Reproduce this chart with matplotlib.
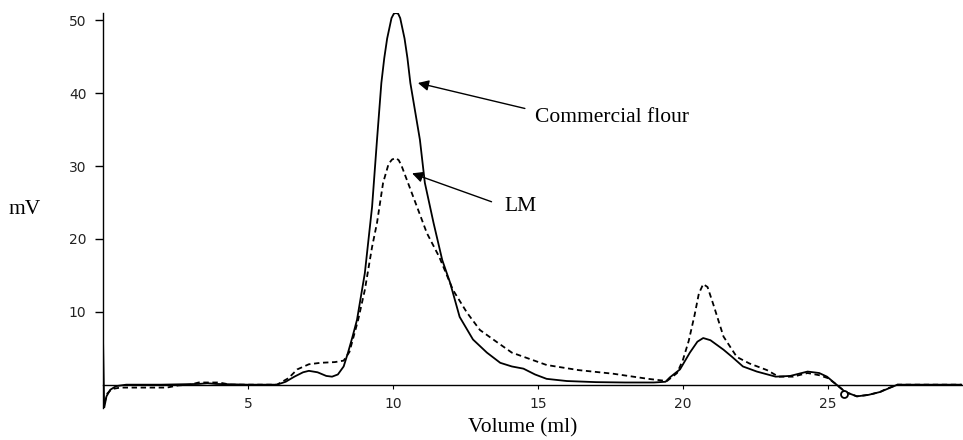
import matplotlib
matplotlib.use("Agg")
import matplotlib.pyplot as plt

# ---- data ----
flour_x = [0.00, 0.04, 0.12, 0.25, 0.45, 0.8, 2.0, 3.3, 3.6, 3.9, 5.0, 6.0, 6.3, 6.6, 6.9, 7.1,
           7.4, 7.7, 7.9, 8.1, 8.3, 8.45, 8.6, 8.76, 9.03, 9.28, 9.45, 9.6, 9.7, 9.8, 9.95, 10.03,
           10.1, 10.18, 10.25, 10.4, 10.5, 10.6, 10.93, 11.1, 11.4, 11.7, 11.97, 12.3, 12.76,
           13.24, 13.7, 14.1, 14.5, 14.9, 15.3, 16.0, 17.0, 18.0, 19.0, 19.4, 19.55, 19.9, 20.24,
           20.5, 20.7, 20.95, 21.4, 21.7, 22.07, 22.55, 23.2, 23.7, 24.3, 24.7, 24.97, 25.3,
           25.6, 26.0, 26.4, 26.8, 27.4, 29.6]
flour_y = [6.5, -3.2, -1.6, -0.7, -0.2, 0.0, 0.0, 0.1, 0.2, 0.1, 0.0, 0.0, 0.4, 1.1, 1.7, 1.9,
           1.7, 1.2, 1.1, 1.4, 2.5, 4.4, 6.5, 8.9, 15.3, 24.4, 33.6, 41.4, 44.8, 47.5, 50.3, 50.9,
           51.0, 50.9, 50.3, 47.5, 44.8, 41.4, 33.6, 27.7, 22.2, 17.1, 14.0, 9.3, 6.2,
           4.4, 3.0, 2.5, 2.2, 1.4, 0.8, 0.5, 0.35, 0.3, 0.3, 0.4, 1.0, 2.1, 4.4,
           5.9, 6.4, 6.1, 4.8, 3.8, 2.5, 1.8, 1.1, 1.2, 1.8, 1.6, 1.1, 0.0,
           -1.0, -1.6, -1.4, -1.0, 0.0, 0.0]

lm_x = [0.05, 0.15, 0.3, 0.6, 2.2, 2.6, 3.0, 3.3, 4.0, 4.4, 6.0, 6.4, 6.7, 7.1, 7.5, 8.0, 8.3,
        8.5, 8.8, 9.03, 9.28, 9.45, 9.66, 9.85, 9.97, 10.1, 10.2, 10.3, 10.48, 10.83, 11.17,
        11.6, 12.07, 12.55, 13.0, 13.6, 14.1, 15.3, 16.4, 17.6, 18.8, 19.45, 19.8, 20.0, 20.2,
        20.4, 20.55, 20.7, 20.85, 21.05, 21.4, 21.86, 22.3, 22.9, 23.3, 23.8, 24.3, 24.7,
        25.0, 25.3, 25.6, 26.0, 26.4, 26.8, 27.0, 27.4, 29.6]
lm_y = [-2.5, -1.2, -0.6, -0.4, -0.4, -0.1, 0.0, 0.3, 0.3, 0.0, 0.0, 0.9, 2.1, 2.8, 3.0, 3.1, 3.3,
        4.5, 8.9, 13.0, 18.9, 22.2, 27.7, 30.3, 30.9, 31.1, 30.8, 30.0, 28.1, 24.4, 20.8,
        17.5, 13.0, 9.9, 7.5, 5.8, 4.4, 2.7, 2.0, 1.5, 0.8, 0.5, 1.6, 3.4, 6.0,
        9.5, 12.5, 13.8, 13.4, 11.0, 6.6, 3.8, 2.9, 2.0, 1.1, 1.1, 1.6, 1.3,
        0.9, 0.0, -1.0, -1.6, -1.4, -1.0, -0.6, 0.0, 0.0]

x_ticks = [5, 10, 15, 20, 25]
y_ticks = [10, 20, 30, 40, 50]

SERIF = ["Liberation Serif", "DejaVu Serif"]

fig = plt.figure(figsize=(9.63, 4.4), dpi=100)
ax = fig.add_axes([103 / 963, 32 / 440, 860 / 963, 395 / 440])

ax.plot(flour_x, flour_y, color="black", lw=1.3, solid_joinstyle="round")
ax.plot(lm_x, lm_y, color="black", lw=1.3, linestyle=(0, (3, 2)))

ax.set_xlim(0, 29.66)
ax.set_ylim(-3.2, 51.0)

for s in ("top", "right"):
    ax.spines[s].set_visible(False)
ax.spines["bottom"].set_position(("data", 0))
ax.spines["bottom"].set_linewidth(1.0)
ax.spines["left"].set_linewidth(1.0)

ax.set_xticks(x_ticks)
ax.set_xticklabels([str(t) for t in x_ticks])
ax.set_yticks(y_ticks)
ax.set_yticklabels([str(t) for t in y_ticks])
ax.tick_params(axis="x", direction="out", length=3, width=0.8, pad=6, labelsize=10, labelcolor="#222222")
ax.tick_params(axis="y", direction="out", length=6, width=1.0, pad=6, labelsize=10, labelcolor="#222222")

# small open circle near the baseline dip
ax.plot([25.55], [-1.3], marker="o", markersize=5, mfc="white", mec="black", mew=1.3)

# annotations
ax.annotate("", xy=(10.86, 41.4), xytext=(14.55, 37.9),
            arrowprops=dict(arrowstyle="-|>", color="black", lw=1.0, mutation_scale=16,
                            shrinkA=0, shrinkB=0))
ax.text(14.9, 36.6, "Commercial flour", family=SERIF, fontsize=15.5, ha="left", va="center")
ax.annotate("", xy=(10.66, 29.0), xytext=(13.4, 25.1),
            arrowprops=dict(arrowstyle="-|>", color="black", lw=1.0, mutation_scale=16,
                            shrinkA=0, shrinkB=0))
ax.text(13.85, 24.4, "LM", family=SERIF, fontsize=15.5, ha="left", va="center")

fig.text(25 / 963, 1 - 209 / 440, "mV", family=SERIF, fontsize=15.5, ha="center", va="center")
fig.text(523 / 963, 1 - 428 / 440, "Volume (ml)", family=SERIF, fontsize=15.5, ha="center", va="center")

fig.savefig("out.png", dpi=100)
